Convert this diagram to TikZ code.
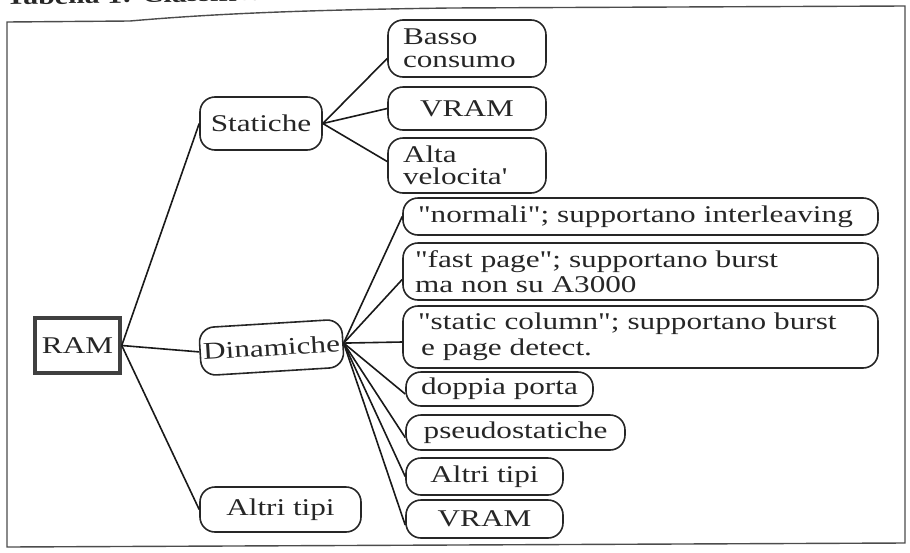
\documentclass[tikz,border=0pt]{standalone}
\usepackage{fontspec}
\setmainfont{Liberation Serif}[FakeStretch=1.3, Ligatures=TeXOff]
\usetikzlibrary{calc}
\begin{document}
\begin{tikzpicture}[x=1pt,y=-1pt,
  txt/.style={font=\fontsize{24}{26}\selectfont, text=black!85},
  rbox/.style={txt, draw=black!85, line width=1.6pt, rounded corners=15pt, inner xsep=0pt, inner ysep=0pt},
  lbox/.style={rbox, align=left, inner xsep=15pt},
  ramstyle/.style={txt, draw=black!75, line width=3.5pt, inner sep=0pt},
  conn/.style={draw=black!90, line width=1.6pt},
  frame/.style={draw=black!70, line width=1.4pt},
]
\useasboundingbox (0,0) rectangle (910,552);
% frame
\draw[frame] (7,22) -- (7,547) -- (905,543) -- (905,6) -- (450,8)
   .. controls (300,10) and (210,14) .. (130,21) -- cycle;
% title (cut by the page top)
\node[font=\bfseries\fontsize{23}{23}\selectfont, text=black!85, anchor=base west, rotate=1, inner sep=0pt] (title) at (6,5) {Tabella 1: Classifica};

% main nodes
\node[ramstyle, minimum width=85pt, minimum height=55pt] (ram) at (77.5,345.5) {RAM};
\node[rbox, minimum width=122pt, minimum height=53pt] (stat) at (261,123.5) {Statiche};
\node[rbox, minimum width=143pt, minimum height=48pt, rotate=3.5] (din) at (271.5,347.5) {Dinamiche};
\node[rbox, minimum width=161pt, minimum height=45pt] (altl) at (280.5,509.5) {Altri tipi};

% static children
\node[lbox, text width=128pt, minimum height=57pt, font=\fontsize{24}{22.5}\selectfont] (basso) at (467,48.5) {Basso\\consumo};
\node[rbox, minimum width=158pt, minimum height=43pt] (vr1) at (467,108.5) {VRAM};
\node[lbox, text width=128pt, minimum height=55pt, font=\fontsize{24}{22.5}\selectfont] (alta) at (467,165.5) {Alta\\velocita'};

% dynamic children
\node[lbox, text width=445pt, minimum height=37pt] (norm) at (640.5,216.5) {"normali"; supportano interleaving};
\node[lbox, inner xsep=12pt, text width=451pt, minimum height=57pt, font=\fontsize{24}{25.5}\selectfont] (fast) at (640.5,271.5) {"fast page"; supportano burst\\ma non su A3000};
\node[lbox, text width=445pt, minimum height=62pt, font=\fontsize{24}{26}\selectfont] (scol) at (640.5,337) {"static column"; supportano burst\\\hspace*{3pt}e page detect.};
\node[rbox, minimum width=187pt, minimum height=34pt] (dop) at (499.5,389) {doppia porta};
\node[rbox, minimum width=219pt, minimum height=35pt] (pse) at (515.5,432.5) {pseudostatiche};
\node[rbox, minimum width=157pt, minimum height=37pt] (altr) at (484.5,476.5) {Altri tipi};
\node[rbox, minimum width=157pt, minimum height=38pt] (vr2) at (484.5,519) {VRAM};

% connectors
\draw[conn] (ram.east) -- (stat.west);
\draw[conn] (ram.east) -- (din.west);
\draw[conn] (ram.east) -- (altl.west);

\draw[conn] (stat.east) -- ($(basso.west)+(0,10)$);
\draw[conn] (stat.east) -- (vr1.west);
\draw[conn] (stat.east) -- ($(alta.west)+(0,-4)$);

\draw[conn] (din.east) -- (norm.west);
\draw[conn] (din.east) -- ($(fast.west)+(0,8)$);
\draw[conn] (din.east) -- ($(scol.west)+(0,5)$);
\draw[conn] (din.east) -- ($(dop.west)+(0,5)$);
\draw[conn] (din.east) -- ($(pse.west)+(0,5)$);
\draw[conn] (din.east) -- (altr.west);
\draw[conn] (din.east) -- ($(vr2.west)+(0,6)$);
\end{tikzpicture}
\end{document}
